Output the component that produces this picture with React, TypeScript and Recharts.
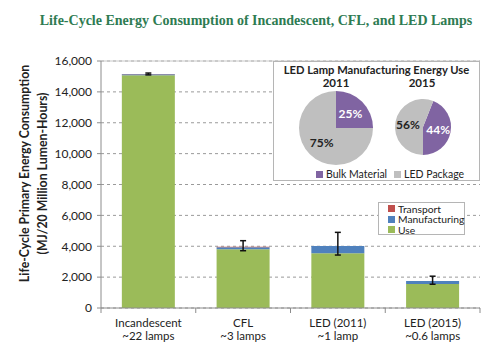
import React from 'react';
import { BarChart, Bar, XAxis, YAxis, CartesianGrid, ErrorBar, ReferenceLine, PieChart, Pie, Cell } from 'recharts';

const categories = ['Incandescent', 'CFL', 'LED (2011)', 'LED (2015)'];
const lampCounts = ['~22 lamps', '~3 lamps', '~1 lamp', '~0.6 lamps'];
const useEnergy = [15080, 3800, 3550, 1560];
const manufacturingEnergy = [60, 130, 460, 190];
const transportEnergy = [20, 30, 10, 5];
const errorLow = [60, 250, 590, 215];
const errorHigh = [60, 400, 880, 305];
const yTicks = [0, 2000, 4000, 6000, 8000, 10000, 12000, 14000, 16000];

const pieNames = ['Bulk Material', 'LED Package'];
const pie2011Values = [25, 75];
const pie2015Values = [44, 56];

const GREEN = '#9bbb59';
const BLUE = '#4f81bd';
const RED = '#c0504d';
const PURPLE = '#8064a2';
const GRAY = '#bfbfbf';
const FONT = 'Lato, "Open Sans", sans-serif';

const barData = categories.map((c, i) => ({
  name: c,
  lamps: lampCounts[i],
  use: useEnergy[i],
  manufacturing: manufacturingEnergy[i],
  transport: transportEnergy[i],
  err: [errorLow[i], errorHigh[i]],
}));

const pie2011 = pieNames.map((n, i) => ({ name: n, value: pie2011Values[i] }));
const pie2015 = pieNames.map((n, i) => ({ name: n, value: pie2015Values[i] }));
const pieColors = [PURPLE, GRAY];

const XTick = (props: any) => {
  const { x, y, payload, index, width, visibleTicksCount } = props;
  const band = width && visibleTicksCount ? width / visibleTicksCount : 94.75;
  const axisY = y - 9;
  const d = barData[index];
  return (
    <g>
      <line x1={x - band / 2} x2={x - band / 2} y1={axisY} y2={axisY + 5} stroke="#8c8c8c" />
      {index === visibleTicksCount - 1 && (
        <line x1={x + band / 2} x2={x + band / 2} y1={axisY} y2={axisY + 5} stroke="#8c8c8c" />
      )}
      <text x={x} y={axisY + 19} textAnchor="middle" fontSize={11.5} fill="#222" fontFamily={FONT}>
        {payload.value}
      </text>
      <text x={x} y={axisY + 32} textAnchor="middle" fontSize={11.5} fill="#222" fontFamily={FONT}>
        {d ? d.lamps : ''}
      </text>
    </g>
  );
};

const YLabel = (props: any) => {
  const vb = props.viewBox || { x: 0, y: 61, width: 101, height: 247 };
  const cy = vb.y + vb.height / 2 - 11;
  return (
    <g>
      <text x={24} y={cy} transform={`rotate(-90, 24, ${cy})`} textAnchor="middle" dominantBaseline="central"
        fontSize={12.3} fontWeight="bold" fill="#222" fontFamily={FONT}>
        Life-Cycle Primary Energy Consumption
      </text>
      <text x={42} y={cy} transform={`rotate(-90, 42, ${cy})`} textAnchor="middle" dominantBaseline="central"
        fontSize={12.3} fontWeight="bold" fill="#222" fontFamily={FONT}>
        (MJ/20 Million Lumen-Hours)
      </text>
    </g>
  );
};

const RADIAN = Math.PI / 180;
const pieLabel = (props: any) => {
  const { cx, cy, midAngle, outerRadius, value, index } = props;
  const r = outerRadius * 0.55;
  const x = cx + r * Math.cos(-midAngle * RADIAN);
  const y = cy + r * Math.sin(-midAngle * RADIAN);
  return (
    <text x={x} y={y} textAnchor="middle" dominantBaseline="central" fontSize={12} fontWeight="bold"
      fill={index === 0 ? '#fff' : '#222'} fontFamily={FONT}>
      {`${value}%`}
    </text>
  );
};

const legendItems = [
  { label: 'Transport', color: RED },
  { label: 'Manufacturing', color: BLUE },
  { label: 'Use', color: GREEN },
];

const sq = (color: string) => (
  <span style={{ display: 'inline-block', flexShrink: 0, width: 7, height: 7, background: color, marginRight: 3 }} />
);

export default function App() {
  return (
    <div style={{ position: 'absolute', left: 0, top: 0, width: 500, height: 358, background: '#fff', overflow: 'hidden' }}>
      <div style={{ position: 'absolute', left: 0, top: 13, width: 512, textAlign: 'center', fontFamily: '"Liberation Serif", serif', fontWeight: 'bold', fontSize: 14, color: '#2e7b52', whiteSpace: 'nowrap' }}>
        Life-Cycle Energy Consumption of Incandescent, CFL, and LED Lamps
      </div>
      <div style={{ position: 'absolute', left: 0, top: 0 }}>
        <BarChart width={500} height={358} data={barData} margin={{ top: 61, right: 20, bottom: 10, left: 0 }} barCategoryGap="22%">
          <CartesianGrid vertical={false} stroke="#9a9a9a" strokeDasharray="3 3" />
          <ReferenceLine y={16000} stroke="#c8c8c8" />
          <XAxis dataKey="name" height={40} tickSize={5} tickMargin={4} tickLine={false} stroke="#8c8c8c" tick={<XTick />} interval={0} />
          <YAxis width={101} domain={[0, 16000]} ticks={yTicks} stroke="#8c8c8c" tickSize={4} tickMargin={5}
            tick={{ fontSize: 12, fill: '#222', fontFamily: FONT }}
            tickFormatter={(v: number) => v.toLocaleString('en-US')}
            label={<YLabel />} />
          <Bar dataKey="use" stackId="a" fill={GREEN} isAnimationActive={false} />
          <Bar dataKey="manufacturing" stackId="a" fill={BLUE} isAnimationActive={false} />
          <Bar dataKey="transport" stackId="a" fill={RED} isAnimationActive={false}>
            <ErrorBar dataKey="err" width={3} stroke="#111" strokeWidth={1.5} direction="y" />
          </Bar>
        </BarChart>
      </div>
      <div style={{ position: 'absolute', left: 378, top: 202, width: 87, height: 33, border: '1px solid #b5b5b5', background: '#fff', fontFamily: FONT, fontSize: 10.3, color: '#222', paddingTop: 0.5, boxSizing: 'border-box' }}>
        {legendItems.map((it) => (
          <div key={it.label} style={{ display: 'flex', alignItems: 'center', height: 10.5, lineHeight: '10.5px', marginLeft: 9, whiteSpace: 'nowrap' }}>
            {sq(it.color)}
            {it.label}
          </div>
        ))}
      </div>
      <div style={{ position: 'absolute', left: 273, top: 61, width: 205, height: 118, border: '1px solid #b5b5b5', background: '#fff' }}>
        <div style={{ position: 'absolute', left: 0, top: 1, width: 205, textAlign: 'center', fontFamily: FONT, fontWeight: 'bold', fontSize: 11.2, color: '#222', whiteSpace: 'nowrap' }}>
          LED Lamp Manufacturing Energy Use
        </div>
        <div style={{ position: 'absolute', left: 42, top: 14, width: 40, textAlign: 'center', fontFamily: FONT, fontWeight: 'bold', fontSize: 11.5, color: '#222' }}>2011</div>
        <div style={{ position: 'absolute', left: 128, top: 14, width: 40, textAlign: 'center', fontFamily: FONT, fontWeight: 'bold', fontSize: 11.5, color: '#222' }}>2015</div>
        <div style={{ position: 'absolute', left: 0, top: 0 }}>
          <PieChart width={205} height={118} margin={{ top: 0, right: 0, bottom: 0, left: 0 }}>
            <Pie data={pie2011} dataKey="value" cx={62} cy={66} outerRadius={37} startAngle={90} endAngle={-270}
              stroke="none" label={pieLabel} labelLine={false} isAnimationActive={false}>
              {pie2011.map((d, i) => <Cell key={d.name} fill={pieColors[i]} />)}
            </Pie>
            <Pie data={pie2015} dataKey="value" cx={149} cy={65} outerRadius={28} startAngle={68.4} endAngle={-291.6}
              stroke="none" label={pieLabel} labelLine={false} isAnimationActive={false}>
              {pie2015.map((d, i) => <Cell key={d.name} fill={pieColors[i]} />)}
            </Pie>
          </PieChart>
        </div>
        <div style={{ position: 'absolute', left: 42, top: 107, display: 'flex', alignItems: 'center', fontFamily: FONT, fontSize: 10.5, color: '#222', lineHeight: '11px', whiteSpace: 'nowrap' }}>
          {sq(PURPLE)}
          <span style={{ marginRight: 7 }}>Bulk Material</span>
          {sq(GRAY)}
          <span>LED Package</span>
        </div>
      </div>
    </div>
  );
}
